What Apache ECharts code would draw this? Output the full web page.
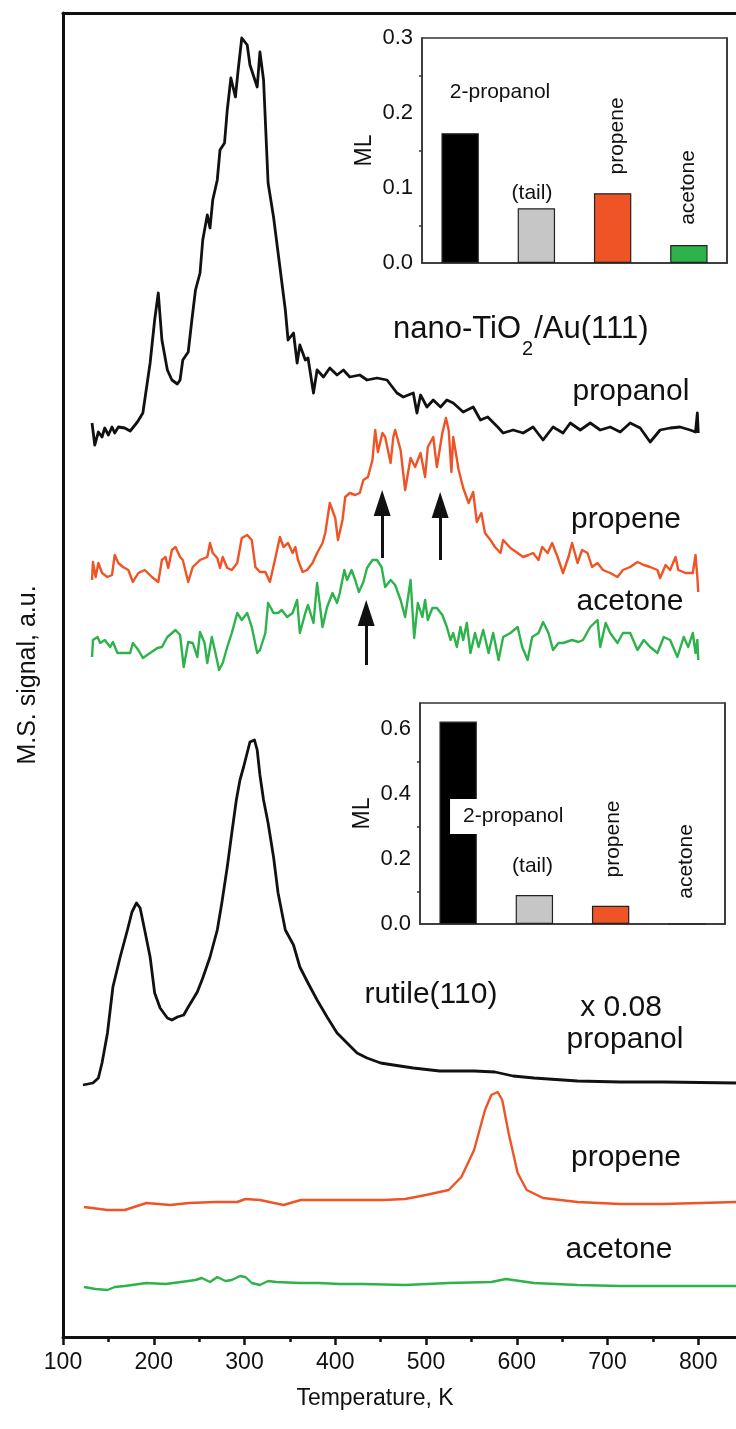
<!DOCTYPE html>
<html>
<head>
<meta charset="utf-8">
<script src="https://cdn.jsdelivr.net/npm/echarts@6.0.0/dist/echarts.min.js"></script>
<style>
  html, body { margin: 0; padding: 0; background: #fff; overflow: hidden; }
  /* the figure is cropped on the right: the axis runs on past 840 K */
  #chart { width: 789px; height: 1429px; }
</style>
</head>
<body>
<div id="chart"></div>
<script>
// TPD traces, [temperature K, signal a.u.] (curves are offset vertically as in the figure)
const nanoPropanol = [
  [132, 91.4], [135, 89.2], [139, 90.5], [143, 90.0], [146, 90.9], [150, 90.2], [154, 91.0],
  [157, 90.4], [161, 91.0], [168, 90.9], [174, 90.6], [182, 91.5], [188, 92.4], [196, 97.4],
  [201, 101.7], [205, 104.4], [209, 99.7], [215, 96.7], [220, 95.7], [226, 95.3], [229, 95.7],
  [232, 97.7], [238, 98.5], [242, 101.7], [246, 104.7], [251, 106.4], [254, 109.7], [259, 112.2],
  [262, 110.9], [265, 113.7], [270, 115.7], [273, 118.7], [278, 119.4], [281, 122.7], [285, 125.9],
  [290, 124.0], [293, 126.7], [297, 129.9], [303, 129.2], [306, 127.2], [314, 125.0], [317, 128.5],
  [321, 125.7], [326, 115.4], [332, 112.0], [339, 107.0], [345, 102.7], [348, 99.7], [354, 100.4],
  [358, 97.4], [361, 99.2], [367, 97.7], [370, 97.9], [376, 94.4], [380, 96.7], [387, 96.0],
  [394, 96.9], [402, 96.2], [409, 96.7], [416, 96.0], [427, 96.2], [435, 95.7], [446, 95.9],
  [457, 95.7], [468, 94.4], [475, 94.0], [486, 94.4], [490, 92.4], [494, 94.2], [501, 93.0],
  [508, 93.7], [516, 93.0], [523, 93.7], [530, 93.4], [541, 92.5], [552, 93.0], [560, 91.7],
  [568, 92.0], [579, 91.0], [585, 90.4], [596, 90.7], [607, 90.4], [618, 91.0], [629, 89.7],
  [640, 91.0], [651, 90.4], [659, 91.4], [670, 90.7], [681, 91.4], [692, 90.7], [703, 91.0],
  [714, 90.5], [725, 91.4], [736, 90.9], [747, 89.5], [758, 90.7], [769, 90.9], [780, 91.0],
  [791, 90.7], [797, 90.5], [799, 92.4], [800, 90.4]
];

const nanoPropene = [
  [132, 75.7], [133, 77.5], [136, 76.0], [139, 77.4], [143, 76.4], [149, 76.0], [154, 76.2],
  [157, 78.2], [161, 77.4], [166, 77.0], [172, 76.7], [177, 75.5], [183, 76.4], [190, 76.7],
  [198, 76.0], [205, 75.5], [209, 77.7], [213, 78.0], [216, 76.9], [220, 78.7], [224, 79.0],
  [229, 78.0], [232, 77.7], [238, 75.5], [243, 77.0], [251, 77.7], [259, 78.0], [262, 79.4],
  [265, 78.4], [270, 77.9], [273, 76.9], [276, 78.0], [281, 76.9], [286, 76.7], [292, 77.4],
  [297, 79.9], [303, 80.2], [308, 79.7], [312, 77.0], [317, 76.5], [323, 76.5], [328, 75.5],
  [334, 77.9], [339, 80.0], [343, 79.0], [348, 79.4], [353, 78.4], [356, 79.0], [359, 77.7],
  [364, 76.5], [369, 76.7], [375, 77.4], [380, 78.4], [386, 79.4], [389, 80.4], [394, 83.4],
  [400, 81.9], [403, 79.7], [408, 81.7], [411, 84.0], [416, 84.4], [422, 84.2], [427, 84.4],
  [431, 85.7], [436, 86.0], [441, 87.7], [444, 90.7], [447, 88.5], [452, 90.4], [455, 90.0],
  [461, 87.4], [464, 90.0], [466, 90.7], [472, 88.7], [477, 84.7], [483, 87.9], [488, 87.0],
  [494, 88.4], [499, 86.0], [502, 89.0], [508, 90.0], [512, 87.0], [518, 90.4], [522, 91.9],
  [525, 90.7], [528, 86.5], [530, 90.0], [536, 86.7], [541, 84.9], [547, 83.4], [552, 84.5],
  [556, 81.5], [561, 82.4], [565, 80.4], [571, 79.7], [576, 79.0], [582, 78.4], [585, 79.7],
  [593, 78.9], [601, 78.4], [607, 78.0], [613, 78.2], [618, 78.4], [624, 77.7], [628, 79.0],
  [634, 78.4], [639, 79.4], [645, 78.0], [651, 76.4], [657, 78.0], [661, 79.4], [667, 77.4],
  [672, 78.7], [678, 78.4], [683, 77.0], [689, 77.4], [695, 76.7], [703, 76.4], [711, 76.0],
  [717, 76.7], [725, 77.0], [733, 77.5], [740, 77.2], [747, 77.0], [755, 76.7], [758, 75.9],
  [764, 77.2], [769, 76.7], [775, 78.0], [778, 76.7], [786, 76.4], [794, 76.4], [797, 78.2],
  [799, 76.0], [800, 74.5]
];

const nanoAcetone = [
  [132, 68.0], [133, 69.7], [138, 70.0], [141, 69.4], [146, 69.7], [152, 69.0], [155, 69.5],
  [160, 68.4], [166, 68.4], [174, 68.4], [177, 69.4], [183, 68.7], [188, 67.9], [196, 68.4],
  [204, 68.9], [209, 69.0], [215, 70.0], [224, 70.7], [229, 70.2], [233, 67.0], [238, 69.5],
  [243, 69.4], [248, 68.0], [251, 70.5], [256, 69.4], [259, 67.4], [264, 70.0], [268, 68.4],
  [272, 66.7], [276, 67.4], [281, 69.0], [286, 70.4], [292, 72.4], [297, 71.7], [303, 72.4],
  [308, 71.0], [314, 68.4], [317, 68.7], [323, 70.4], [326, 73.4], [332, 72.4], [337, 72.4],
  [341, 72.7], [347, 72.0], [353, 72.4], [358, 73.7], [361, 70.4], [367, 72.4], [370, 73.2],
  [376, 71.4], [380, 75.4], [386, 71.0], [391, 73.0], [397, 74.4], [402, 73.4], [405, 74.4],
  [410, 76.7], [413, 75.7], [418, 76.7], [422, 75.7], [426, 74.5], [431, 75.5], [435, 76.9],
  [441, 77.7], [446, 77.7], [451, 77.0], [455, 75.0], [461, 75.7], [466, 75.2], [472, 73.7],
  [477, 72.0], [483, 75.7], [487, 69.9], [491, 73.4], [496, 72.0], [499, 73.7], [502, 71.7],
  [507, 72.9], [512, 72.9], [518, 72.2], [523, 71.0], [527, 69.7], [530, 70.4], [534, 69.0],
  [538, 71.0], [541, 69.7], [545, 71.4], [549, 68.4], [554, 70.4], [558, 69.0], [563, 70.7],
  [569, 68.4], [574, 70.4], [580, 67.7], [585, 70.0], [593, 70.4], [601, 71.0], [606, 69.0],
  [612, 67.7], [617, 70.0], [624, 70.4], [629, 71.5], [635, 70.4], [640, 68.7], [646, 69.4],
  [651, 69.4], [661, 69.7], [668, 69.5], [673, 69.7], [681, 71.0], [689, 71.7], [692, 69.0],
  [698, 71.4], [703, 70.4], [711, 69.4], [717, 70.4], [725, 70.4], [733, 68.7], [740, 69.7],
  [747, 69.0], [755, 68.4], [762, 70.0], [769, 69.7], [777, 68.0], [784, 70.0], [789, 69.0],
  [794, 70.4], [797, 68.4], [799, 69.7], [800, 67.7]
];

const rutilePropanol = [
  [122, 25.2], [133, 25.4], [139, 25.9], [143, 27.4], [149, 30.4], [155, 35.0], [163, 38.0],
  [171, 40.7], [176, 42.5], [181, 43.4], [185, 42.9], [190, 40.7], [196, 38.0], [201, 34.4],
  [207, 32.9], [215, 31.9], [220, 31.7], [226, 32.0], [233, 32.2], [238, 33.0], [248, 34.5],
  [254, 35.9], [262, 38.0], [270, 40.7], [275, 43.4], [281, 47.0], [286, 50.4], [291, 53.7],
  [295, 55.7], [299, 57.0], [306, 59.5], [311, 59.7], [314, 58.7], [317, 56.2], [321, 53.7],
  [326, 51.4], [332, 48.0], [337, 44.4], [345, 40.7], [354, 39.2], [361, 37.0], [370, 35.4],
  [380, 33.7], [391, 32.0], [402, 30.4], [413, 29.4], [424, 28.4], [435, 27.9], [450, 27.4],
  [464, 27.2], [486, 26.9], [515, 26.6], [553, 26.6], [576, 26.5], [596, 26.1], [619, 25.9],
  [667, 25.6], [714, 25.5], [762, 25.5], [842, 25.4], [852, 25.4]
];

const rutilePropene = [
  [123, 13.0], [149, 12.7], [168, 12.7], [192, 13.4], [218, 13.2], [239, 13.4], [268, 13.5],
  [292, 13.5], [301, 13.8], [317, 13.7], [343, 13.2], [362, 13.7], [405, 13.7], [453, 13.7],
  [477, 13.8], [500, 14.2], [525, 14.7], [539, 16.0], [553, 18.7], [565, 22.7], [572, 24.2],
  [579, 24.5], [584, 23.7], [591, 20.4], [601, 16.4], [611, 14.7], [629, 13.9], [667, 13.5],
  [714, 13.3], [762, 13.3], [842, 13.5], [852, 13.5]
];

const rutileAcetone = [
  [123, 5.0], [136, 4.8], [149, 4.7], [157, 5.0], [168, 5.1], [192, 5.4], [213, 5.3],
  [230, 5.5], [246, 5.7], [253, 5.9], [262, 5.5], [270, 6.0], [279, 5.6], [286, 5.7],
  [295, 6.1], [301, 6.0], [308, 5.4], [317, 5.2], [326, 5.6], [335, 5.5], [361, 5.4],
  [382, 5.4], [405, 5.3], [430, 5.3], [477, 5.2], [525, 5.4], [572, 5.5], [588, 5.8],
  [619, 5.4], [667, 5.2], [714, 5.1], [762, 5.1], [842, 5.1], [852, 5.1]
];

// arrows marking desorption peaks: [T, tail signal, tip signal]
const propeneArrows = [[451.7, 77.9, 84.7], [515.6, 77.7, 84.5]];
const acetoneArrows = [[434.1, 67.2, 73.7]];

// inset bar charts, coverage in ML
const insetCategories = ["2-propanol", "(tail)", "propene", "acetone"];
const nanoCoverage = [0.173, 0.073, 0.093, 0.024];
const rutileCoverage = [0.623, 0.089, 0.056, 0];

const FONT = '"Liberation Sans", Arial, Helvetica, sans-serif';
const INK = "#111";
const ORANGE = "#ee5426";
const GREEN = "#2eb24b";
const barColors = ["#000", "#c6c6c6", ORANGE, GREEN];

const HEAD = 1.3; // half arrow head length in signal units

const arrowLines = (arrows) =>
  arrows.map(([t, from, to]) => [
    { coord: [t, from], symbol: "none" },
    { coord: [t, to - HEAD], symbol: "triangle", symbolSize: [17, 26] },
  ]);

const arrowMark = (arrows) => ({
  silent: true,
  animation: false,
  label: { show: false },
  lineStyle: { color: INK, width: 3, type: "solid" },
  itemStyle: { color: INK },
  emphasis: { disabled: true },
  data: arrowLines(arrows),
});

const trace = (data, color, width, extra) =>
  Object.assign(
    {
      type: "line",
      xAxisIndex: 0,
      yAxisIndex: 0,
      data: data,
      showSymbol: false,
      symbol: "none",
      silent: true,
      lineStyle: { color: color, width: width, join: "round" },
      itemStyle: { color: color },
    },
    extra || {}
  );

// label placement for each inset bar, relative to the bar's top-left corner
const nanoLabels = [
  { position: [58.6, -41.3] },
  { position: [14.3, -15.3] },
  { position: [23.1, -57.3], rotate: 90 },
  { position: [17.8, -57.5], rotate: 90 },
];
const rutileLabels = [
  {
    position: [10.6, 77.5],
    align: "left",
    verticalAlign: "top",
    backgroundColor: "#fff",
    padding: [5, 4, 5, 13],
    lineHeight: 25,
  },
  { position: [16.8, -29.1] },
  { position: [21.1, -66.8], rotate: 90 },
  { position: [18.8, -62], rotate: 90 },
];

const barData = (values, labels) =>
  values.map((v, i) => ({
    value: v,
    itemStyle: { color: barColors[i] },
    label: labels[i],
  }));

const barSeries = (xi, yi, values, labels) => ({
  type: "bar",
  xAxisIndex: xi,
  yAxisIndex: yi,
  barWidth: "49%",
  silent: true,
  z: 5,
  itemStyle: { borderColor: "#222", borderWidth: 1.2 },
  label: {
    show: true,
    formatter: "{b}",
    color: INK,
    fontSize: 21,
    fontFamily: FONT,
    align: "center",
    verticalAlign: "middle",
  },
  data: barData(values, labels),
});

const insetLeftAxis = (gi, max, interval) => ({
  type: "value",
  gridIndex: gi,
  min: 0,
  max: max,
  interval: interval,
  axisLine: { show: true, onZero: false, lineStyle: { color: "#333", width: 1.5 } },
  axisTick: { length: 6, lineStyle: { color: "#333", width: 1.5 } },
  minorTick: { show: true, splitNumber: 2, length: 3, lineStyle: { color: "#333", width: 1.5 } },
  splitLine: { show: false },
  axisLabel: {
    fontSize: 22,
    color: INK,
    fontFamily: FONT,
    margin: 9,
    showMaxLabel: max === 0.3,
    formatter: (v) => v.toFixed(1),
  },
  name: "ML",
  nameLocation: "middle",
  nameGap: 46,
  nameTextStyle: { fontSize: 23, color: INK, fontFamily: FONT },
});

const insetRightAxis = (gi, max, interval) => ({
  type: "value",
  gridIndex: gi,
  position: "right",
  min: 0,
  max: max,
  interval: interval,
  axisLine: { show: true, onZero: false, lineStyle: { color: "#333", width: 1.5 } },
  axisTick: { inside: true, length: 6, lineStyle: { color: "#333", width: 1.5 } },
  axisLabel: { show: false },
  splitLine: { show: false },
});

const insetCategoryAxis = (gi) => ({
  type: "category",
  gridIndex: gi,
  data: insetCategories,
  axisLine: { lineStyle: { color: "#333", width: 1.5 } },
  axisTick: { show: false },
  axisLabel: { show: false },
});

const note = (text, x, y, size) => ({
  type: "text",
  x: x,
  y: y,
  silent: true,
  z: 20,
  style: {
    text: text,
    fill: INK,
    font: size + "px " + FONT,
    align: "center",
    verticalAlign: "middle",
  },
});

const chart = echarts.init(document.getElementById("chart"));

const option = {
  animation: false,
  backgroundColor: "#fff",
  grid: [
    { left: 63, top: 13, right: 0, height: 1324 },
    { left: 422, top: 38, width: 305, height: 225, show: true, borderColor: "#333", borderWidth: 1.5 },
    { left: 420, top: 703, width: 305, height: 221, show: true, borderColor: "#333", borderWidth: 1.5 },
  ],
  xAxis: [
    {
      type: "value",
      gridIndex: 0,
      min: 100,
      max: 900,
      interval: 100,
      axisLine: { onZero: false, lineStyle: { color: INK, width: 3 } },
      axisTick: { length: 8, lineStyle: { color: INK, width: 2.5 } },
      minorTick: { show: true, splitNumber: 2, length: 5, lineStyle: { color: INK, width: 2.5 } },
      splitLine: { show: false },
      axisLabel: { fontSize: 23, color: INK, fontFamily: FONT, margin: 14, showMaxLabel: false },
      name: "Temperature, K",
      nameLocation: "middle",
      nameGap: 50,
      nameTextStyle: { fontSize: 23, color: INK, fontFamily: FONT, padding: [0, 102, 0, 0] },
    },
    {
      type: "value",
      gridIndex: 0,
      position: "top",
      min: 100,
      max: 900,
      axisLine: { onZero: false, lineStyle: { color: INK, width: 3 } },
      axisTick: { show: false },
      axisLabel: { show: false },
      splitLine: { show: false },
    },
    insetCategoryAxis(1),
    insetCategoryAxis(2),
  ],
  yAxis: [
    {
      type: "value",
      gridIndex: 0,
      min: 0,
      max: 132.4,
      axisLine: { show: true, onZero: false, lineStyle: { color: INK, width: 3 } },
      axisTick: { show: false },
      axisLabel: { show: false },
      splitLine: { show: false },
      name: "M.S. signal, a.u.",
      nameLocation: "middle",
      nameGap: 22,
      nameTextStyle: { fontSize: 25, color: INK, fontFamily: FONT },
    },
    insetLeftAxis(1, 0.3, 0.1),
    insetRightAxis(1, 0.3, 0.05),
    insetLeftAxis(2, 0.68, 0.2),
    insetRightAxis(2, 0.68, 0.1),
  ],
  graphic: [
    {
      type: "text",
      x: 393,
      y: 314,
      silent: true,
      z: 20,
      style: {
        text: "{a|nano-TiO}{s|2}{a|/Au(111)}",
        fill: INK,
        align: "left",
        verticalAlign: "top",
        rich: {
          a: { fontSize: 31, fontFamily: FONT, lineHeight: 36, verticalAlign: "top", fill: INK },
          s: { fontSize: 20, fontFamily: FONT, lineHeight: 20, verticalAlign: "top", padding: [25, 1, 0, 1], fill: INK },
        },
      },
    },
    note("propanol", 631, 391.6, 30),
    note("propene", 626, 519.6, 30),
    note("acetone", 630, 601.6, 30),
    note("rutile(110)", 431, 994.6, 30),
    note("x 0.08", 621, 1007.6, 30),
    note("propanol", 625, 1039.6, 30),
    note("propene", 626, 1157.6, 30),
    note("acetone", 619, 1249.6, 30),
  ],
  series: [
    trace(nanoPropanol, INK, 2.8),
    trace(nanoPropene, ORANGE, 2.4, { markLine: arrowMark(propeneArrows) }),
    trace(nanoAcetone, GREEN, 2.4, { markLine: arrowMark(acetoneArrows) }),
    trace(rutilePropanol, INK, 2.8),
    trace(rutilePropene, ORANGE, 2.4),
    trace(rutileAcetone, GREEN, 2.4),
    barSeries(2, 1, nanoCoverage, nanoLabels),
    barSeries(3, 3, rutileCoverage, rutileLabels),
  ],
};

option && chart.setOption(option);
</script>
</body>
</html>
